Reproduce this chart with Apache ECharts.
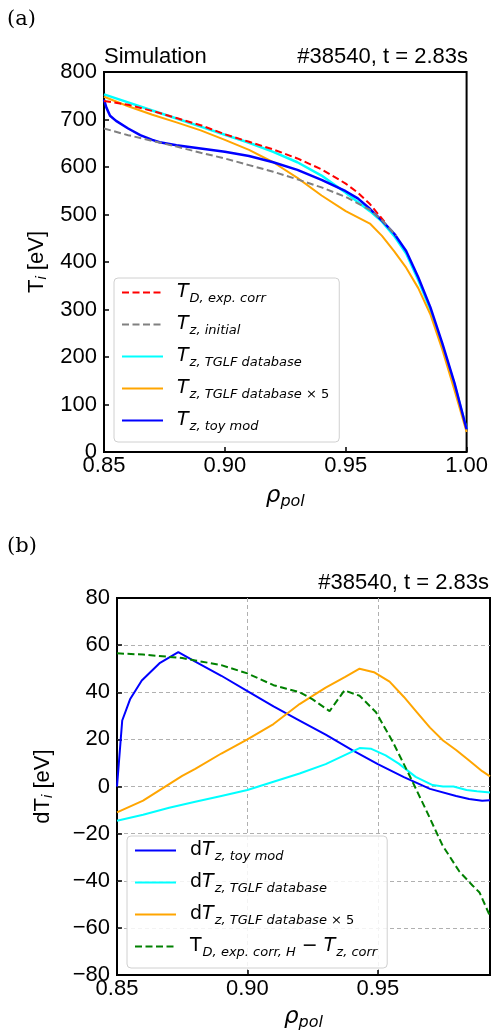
<!DOCTYPE html>
<html>
<head>
<meta charset="utf-8">
<script src="https://cdn.jsdelivr.net/npm/echarts@6/dist/echarts.min.js"></script>
<style>html,body{margin:0;padding:0;background:#fff;}#c{width:491px;height:1032px;}</style>
</head>
<body>
<div id="c"></div>
<script>
// ---------- Panel (a): T_i profiles ----------
const rhoRed   = [0.85, 0.86, 0.87, 0.88, 0.89, 0.90, 0.91, 0.92, 0.93, 0.94, 0.95, 0.955, 0.96, 0.966];
const tRed     = [739, 731, 718, 703, 688, 669, 653, 637, 618, 595, 565, 546, 522, 485];
const rhoGray  = [0.85, 0.86, 0.87, 0.88, 0.89, 0.90, 0.91, 0.92, 0.93, 0.94, 0.95, 0.96, 0.965, 0.971];
const tGray    = [681, 667, 655, 643, 630, 618, 604, 590, 574, 557, 537, 510, 488, 455];
const rhoCyan  = [0.85, 0.86, 0.87, 0.88, 0.89, 0.90, 0.91, 0.92, 0.93, 0.94, 0.95, 0.96, 0.965, 0.97, 0.975, 0.98, 0.985, 0.99, 0.995, 1.0];
const tCyan    = [753, 736, 719, 702, 685, 668, 651, 632, 610, 582, 546, 507, 485, 455, 418, 362, 300, 224, 142, 48];
const rhoOrange= [0.85, 0.86, 0.87, 0.88, 0.89, 0.90, 0.91, 0.92, 0.93, 0.94, 0.95, 0.96, 0.965, 0.97, 0.975, 0.98, 0.985, 0.99, 0.995, 1.0];
const tOrange  = [748, 728, 710, 694, 677, 657, 636, 610, 577, 540, 507, 481, 455, 423, 388, 345, 290, 215, 130, 42];
const rhoBlue  = [0.85, 0.851, 0.8525, 0.855, 0.86, 0.865, 0.87, 0.873, 0.88, 0.89, 0.90, 0.91, 0.92, 0.93, 0.94, 0.95, 0.955, 0.96, 0.965, 0.97, 0.975, 0.98, 0.985, 0.99, 0.995, 1.0];
const tBlue    = [742, 725, 708, 697, 681, 667, 657, 652, 646, 639, 632, 623, 610, 594, 573, 549, 534, 512, 487, 460, 423, 368, 305, 228, 145, 48];

// ---------- Panel (b): dT_i ----------
const rhoDBlue   = [0.85, 0.852, 0.855, 0.8595, 0.8665, 0.8735, 0.88, 0.89, 0.90, 0.91, 0.92, 0.93, 0.94, 0.95, 0.96, 0.97, 0.98, 0.985, 0.99, 0.993];
const dBlue      = [0, 28, 37, 45, 52.5, 57, 53, 47, 40.5, 34, 28, 22, 15.5, 9.5, 4, -1, -4, -5.3, -6, -5.8];
const rhoDCyan   = [0.85, 0.86, 0.87, 0.88, 0.89, 0.90, 0.91, 0.92, 0.93, 0.943, 0.9475, 0.953, 0.958, 0.9645, 0.971, 0.975, 0.979, 0.984, 0.988, 0.993];
const dCyan      = [-14.5, -12, -9, -6.5, -4, -1.5, 2, 5.5, 9.5, 16.3, 16, 13.2, 9.7, 4.1, 0.6, 0, 0, -1.5, -2, -2.5];
const rhoDOrange = [0.85, 0.86, 0.87, 0.875, 0.88, 0.89, 0.90, 0.91, 0.92, 0.93, 0.9375, 0.943, 0.9485, 0.9545, 0.96, 0.965, 0.97, 0.975, 0.98, 0.985, 0.99, 0.993];
const dOrange    = [-11, -6, 1, 4.5, 7.5, 14, 20, 26.5, 35, 42, 46.5, 50, 48.5, 44.5, 38, 31.5, 25, 19.5, 15.5, 11, 6.5, 4.3];
const rhoDGreen  = [0.85, 0.86, 0.87, 0.875, 0.88, 0.89, 0.90, 0.905, 0.91, 0.915, 0.92, 0.925, 0.9315, 0.9372, 0.943, 0.9493, 0.9557, 0.962, 0.9685, 0.9748, 0.9812, 0.9863, 0.989, 0.993];
const dGreen     = [56.5, 56, 55, 54.5, 53.5, 51.5, 48, 45.5, 43, 41.5, 40, 37, 32, 40.8, 38.5, 31.5, 19, 5, -10, -25, -36, -42, -45, -55];

// ---------- Text ----------
const panelLabels = ['(a)', '(b)'];
const titleLeftA = 'Simulation';
const shotLabel = '#38540, t = 2.83s';
const namesTop = ['TD', 'Tinit', 'Tcyan', 'Torange', 'Tblue'];
const namesBot = ['dBlue', 'dCyan', 'dOrange', 'dGreen'];
const legendRich = {
  TD: '{T|T}{s|D, exp. corr}',
  Tinit: '{T|T}{s|z, initial}',
  Tcyan: '{T|T}{s|z, TGLF database}',
  Torange: '{T|T}{s|z, TGLF database}{su| × 5}',
  Tblue: '{T|T}{s|z, toy mod}',
  dBlue: '{u|d}{T|T}{s|z, toy mod}',
  dCyan: '{u|d}{T|T}{s|z, TGLF database}',
  dOrange: '{u|d}{T|T}{s|z, TGLF database}{su| × 5}',
  dGreen: '{u|T}{s|D, exp. corr, H}{m| − }{T|T}{s|z, corr}'
};

const pair = (xs, ys) => xs.map((x, i) => [x, ys[i]]);
const F = 'Liberation Sans';
const M = 'DejaVu Sans';
const richMath = {
  T: {fontFamily: M, fontStyle: 'italic', fontSize: 19, color: '#000'},
  u: {fontFamily: M, fontSize: 19, color: '#000'},
  m: {fontFamily: M, fontSize: 19, color: '#000'},
  s: {fontFamily: M, fontStyle: 'italic', fontSize: 13, color: '#000', padding: [12, 0, 0, 1]},
  su: {fontFamily: M, fontSize: 13, color: '#000', padding: [12, 0, 0, 0]}
};
const fmtY = v => (v < 0 ? '\u2212' + Math.abs(v) : String(v));

const axisLabelStyle = {fontFamily: F, fontSize: 22, color: '#000'};

function line(name, xs, ys, color, width, dashed, xi, z) {
  return {
    name: name, type: 'line', xAxisIndex: xi, yAxisIndex: xi,
    data: pair(xs, ys), symbol: 'none', showSymbol: false, smooth: false,
    z: z, animation: false,
    lineStyle: {color: color, width: width, type: dashed ? [7, 3.5] : 'solid'},
    itemStyle: {color: color}
  };
}

const legendCommon = {
  orient: 'vertical', itemWidth: 41, itemHeight: 12, itemGap: 10, padding: [5, 10, 9, 7],
  backgroundColor: 'rgba(255,255,255,0.85)', borderColor: '#d0d0d0', borderWidth: 1, borderRadius: 4,
  itemStyle: {opacity: 0, borderWidth: 0},
  formatter: n => legendRich[n], textStyle: {padding: [0, 0, 0, 9], rich: richMath}
};

const option = {
  backgroundColor: '#fff',
  animation: false,
  title: [
    {text: panelLabels[0], left: 7, top: 9, padding: 0, textStyle: {fontFamily: 'DejaVu Serif', fontSize: 21, fontWeight: 'normal', color: '#000'}},
    {text: panelLabels[1], left: 7, top: 536, padding: 0, textStyle: {fontFamily: 'DejaVu Serif', fontSize: 21, fontWeight: 'normal', color: '#000'}},
    {text: titleLeftA, left: 104, top: 46, padding: 0, textStyle: {fontFamily: F, fontSize: 22, fontWeight: 'normal', color: '#000'}},
    {text: shotLabel, right: 23, top: 46, padding: 0, textStyle: {fontFamily: F, fontSize: 22, fontWeight: 'normal', color: '#000'}},
    {text: shotLabel, right: 2, top: 572, padding: 0, textStyle: {fontFamily: F, fontSize: 22, fontWeight: 'normal', color: '#000'}}
  ],
  grid: [
    {left: 104, top: 72, width: 364, height: 380, show: true, borderColor: '#000', borderWidth: 2, containLabel: false},
    {left: 117, top: 598, width: 373, height: 380, show: true, borderColor: '#000', borderWidth: 2, containLabel: false}
  ],
  xAxis: [
    {type: 'value', gridIndex: 0, min: 0.85, max: 1.0, interval: 0.05,
     axisLine: {show: false, onZero: false}, splitLine: {show: false},
     axisTick: {show: true, inside: true, length: 5, lineStyle: {color: '#000', width: 1.5}},
     axisLabel: Object.assign({margin: 3, formatter: v => v.toFixed(2)}, axisLabelStyle),
     name: '{r|ρ}{p|pol}', nameLocation: 'middle', nameGap: 30,
     nameTextStyle: {rich: {r: {fontFamily: M, fontStyle: 'italic', fontSize: 23, color: '#000'}, p: {fontFamily: M, fontStyle: 'italic', fontSize: 16, color: '#000', padding: [12, 0, 0, 0]}}}},
    {type: 'value', gridIndex: 1, min: 0.85, max: 0.993, interval: 0.05,
     axisLine: {show: false, onZero: false},
     splitLine: {show: true, showMinLine: false, showMaxLine: false, lineStyle: {color: '#b0b0b0', width: 1, type: [4, 3]}},
     axisTick: {show: true, inside: true, length: 5, lineStyle: {color: '#000', width: 1.5}},
     axisLabel: Object.assign({margin: 3, showMaxLabel: false, formatter: v => v.toFixed(2)}, axisLabelStyle),
     name: '{r|ρ}{p|pol}', nameLocation: 'middle', nameGap: 28,
     nameTextStyle: {rich: {r: {fontFamily: M, fontStyle: 'italic', fontSize: 23, color: '#000'}, p: {fontFamily: M, fontStyle: 'italic', fontSize: 16, color: '#000', padding: [12, 0, 0, 0]}}}}
  ],
  yAxis: [
    {type: 'value', gridIndex: 0, min: 0, max: 800, interval: 100,
     axisLine: {show: false, onZero: false}, splitLine: {show: false},
     axisTick: {show: true, inside: true, length: 5, lineStyle: {color: '#000', width: 1.5}},
     axisLabel: Object.assign({margin: 7, formatter: fmtY}, axisLabelStyle),
     name: '{n|T}{s|i}{n| [eV]}', nameLocation: 'middle', nameRotate: 90, nameGap: 47,
     nameTextStyle: {rich: {n: {fontFamily: F, fontSize: 22, color: '#000'}, s: {fontFamily: F, fontStyle: 'italic', fontSize: 15, color: '#000', padding: [10, 0, 0, 0]}}}},
    {type: 'value', gridIndex: 1, min: -80, max: 80, interval: 20,
     axisLine: {show: false, onZero: false},
     splitLine: {show: true, showMinLine: false, showMaxLine: false, lineStyle: {color: '#b0b0b0', width: 1, type: [4, 3]}},
     axisTick: {show: true, inside: true, length: 5, lineStyle: {color: '#000', width: 1.5}},
     axisLabel: Object.assign({margin: 7, formatter: fmtY}, axisLabelStyle),
     name: '{n|dT}{s|i}{n| [eV]}', nameLocation: 'middle', nameRotate: 90, nameGap: 62,
     nameTextStyle: {rich: {n: {fontFamily: F, fontSize: 22, color: '#000'}, s: {fontFamily: F, fontStyle: 'italic', fontSize: 15, color: '#000', padding: [10, 0, 0, 0]}}}}
  ],
  legend: [
    Object.assign({data: namesTop, left: 114, top: 278}, legendCommon),
    Object.assign({data: namesBot, left: 127, top: 836}, legendCommon)
  ],
  series: [
    line('Tcyan', rhoCyan, tCyan, '#00ffff', 2.5, false, 0, 2),
    line('Torange', rhoOrange, tOrange, '#ffa500', 2, false, 0, 3),
    line('Tblue', rhoBlue, tBlue, '#0000ff', 2.5, false, 0, 4),
    line('TD', rhoRed, tRed, '#ff0000', 2, true, 0, 5),
    line('Tinit', rhoGray, tGray, '#808080', 2, true, 0, 5),
    line('dBlue', rhoDBlue, dBlue, '#0000ff', 2, false, 1, 2),
    line('dCyan', rhoDCyan, dCyan, '#00ffff', 2, false, 1, 3),
    line('dOrange', rhoDOrange, dOrange, '#ffa500', 2, false, 1, 4),
    line('dGreen', rhoDGreen, dGreen, '#008000', 2, true, 1, 5)
  ]
};

const chart = echarts.init(document.getElementById('c'), null, {renderer: 'canvas'});
chart.setOption(option);
</script>
</body>
</html>
